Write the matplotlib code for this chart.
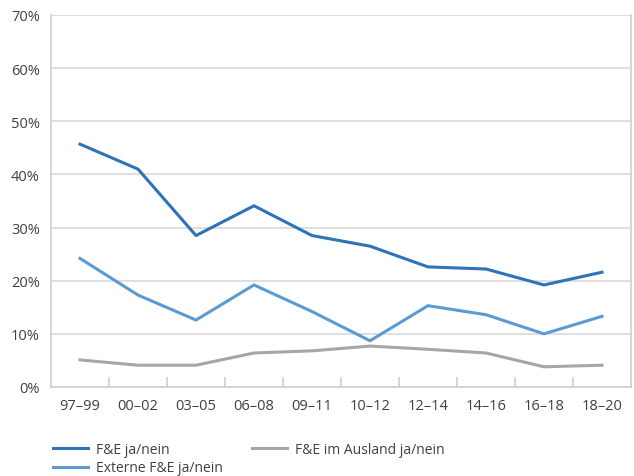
import numpy as np
import matplotlib.pyplot as plt

plt.rcParams['font.family'] = ['Open Sans', 'DejaVu Sans']

periods = ['97–99', '00–02', '03–05', '06–08', '09–11', '10–12', '12–14', '14–16', '16–18', '18–20']
fue = [45.7, 41.0, 28.5, 34.1, 28.5, 26.5, 22.6, 22.2, 19.2, 21.6]
extern = [24.2, 17.3, 12.6, 19.2, 14.2, 8.7, 15.3, 13.6, 10.0, 13.3]
ausland = [5.1, 4.1, 4.1, 6.4, 6.8, 7.7, 7.1, 6.4, 3.8, 4.1]

fig = plt.figure(figsize=(6.34, 4.77), dpi=100)
ax = fig.add_axes([51/634, 1 - 388/477, 580/634, 372/477])

x = np.arange(len(periods))
ax.plot(x, fue, color='#2e72b8', lw=2.2, label='F&E ja/nein')
ax.plot(x, extern, color='#5a9bd6', lw=2.2, label='Externe F&E ja/nein')
ax.plot(x, ausland, color='#a6a6a8', lw=2.2, label='F&E im Ausland ja/nein')

ax.set_xlim(-0.5, len(periods) - 0.5)
ax.set_ylim(0, 70)
ax.set_yticks(np.arange(0, 71, 10))
ax.set_yticklabels([f'{v}%' for v in range(0, 71, 10)])
ax.set_xticks(x)
ax.set_xticklabels(periods)
ax.set_xticks(np.arange(0.5, len(periods) - 1, 1), minor=True)

ax.yaxis.grid(True, color='#d9d9d9', lw=1.2)
ax.set_axisbelow(True)
for s in ['left', 'bottom', 'right']:
    ax.spines[s].set_color('#d0d0d0')
    ax.spines[s].set_linewidth(1.2)
ax.spines['top'].set_visible(False)

ax.tick_params(axis='both', colors='#404040', labelsize=10.5, length=0, pad=8)
ax.tick_params(axis='x', which='minor', direction='in', length=7, color='#d0d0d0', width=1.2)

handles, labels = ax.get_legend_handles_labels()
fig.legend(handles, labels, ncol=2,
           loc='upper left', bbox_to_anchor=(53/634, 1 - 443/477), frameon=False,
           fontsize=10, labelcolor='#404040', handlelength=2.5, handletextpad=0.6,
           columnspacing=2.1, labelspacing=0.25, borderpad=0, borderaxespad=0)

fig.savefig('out.png', dpi=100)
